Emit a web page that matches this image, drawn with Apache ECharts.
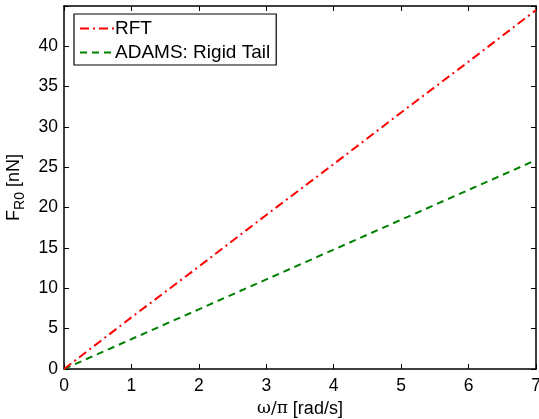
<!DOCTYPE html>
<html>
<head>
<meta charset="utf-8">
<script src="https://cdn.jsdelivr.net/npm/echarts@6/dist/echarts.min.js"></script>
<style>
html,body{margin:0;padding:0;background:#fff;}
#chart{width:539px;height:419px;}
</style>
</head>
<body>
<div id="chart"></div>
<script>
// omega/pi values and forces
var xVals = [0, 1, 2, 3, 4, 5, 6, 7];
var rftVals = [0, 6.4, 12.7, 19.1, 25.4, 31.8, 38.1, 44.5];
var adamsVals = [0, 3.7, 7.4, 11.1, 14.8, 18.5, 22.2, 25.9];
var seriesNames = ['RFT', 'ADAMS: Rigid Tail'];

function pairs(xs, ys){
	var out = [];
	for(var i = 0; i < xs.length; i++){
		out.push([xs[i], ys[i]]);
	}
	return out;
}

var font = 'Liberation Sans, Arial, sans-serif';
var myChart = echarts.init(document.getElementById('chart'), null, {renderer: 'canvas'});

var axisCommon = {
	axisLine: {show: true, onZero: false, lineStyle: {color: '#000', width: 1.5}},
	axisTick: {show: true, inside: true, length: 5, lineStyle: {color: '#000', width: 1}},
	splitLine: {show: false}
};

option = {
	animation: false,
	grid: {left: 64, right: 3, top: 6, bottom: 50, containLabel: false, outerBoundsMode: 'none'},
	legend: {
		left: 74, top: 14,
		orient: 'vertical',
		padding: [5, 6, 3, 5],
		itemGap: 5,
		itemWidth: 34,
		itemHeight: 19,
		borderColor: '#000',
		borderWidth: 1.2,
		backgroundColor: '#fff',
		itemStyle: {opacity: 0},
		textStyle: {fontFamily: font, fontSize: 19, color: '#000', padding: [0, 0, 0, -4]},
		data: seriesNames
	},
	xAxis: [
		Object.assign({
			type: 'value', min: 0, max: 7, interval: 1, position: 'bottom',
			name: '{w|ω/π} [rad/s]', nameLocation: 'middle', nameGap: 28,
			nameTextStyle: {fontFamily: font, fontSize: 18, color: '#000',
				rich: {w: {fontFamily: 'DejaVu Serif, serif', fontSize: 17, color: '#000'}}},
			axisLabel: {fontFamily: font, fontSize: 17.5, color: '#000', margin: 8}
		}, axisCommon),
		Object.assign({
			type: 'value', min: 0, max: 7, interval: 1, position: 'top',
			axisLabel: {show: false}
		}, axisCommon)
	],
	yAxis: [
		Object.assign({
			type: 'value', min: 0, max: 45, interval: 5, position: 'left',
			name: 'F{sub|R0} [nN]', nameLocation: 'middle', nameGap: 37, nameRotate: 90,
			nameTextStyle: {fontFamily: font, fontSize: 18, color: '#000',
				rich: {sub: {fontFamily: font, fontSize: 14, color: '#000', padding: [12, 0, 0, 0]}}},
			axisLabel: {fontFamily: font, fontSize: 17.5, color: '#000', margin: 6,
				formatter: function(v){ return v <= 40 ? String(v) : ''; }}
		}, axisCommon),
		Object.assign({
			type: 'value', min: 0, max: 45, interval: 5, position: 'right',
			axisLabel: {show: false}
		}, axisCommon)
	],
	series: [{
		name: seriesNames[0],
		type: 'line',
		data: pairs(xVals, rftVals),
		showSymbol: false,
		symbol: 'none',
		lineStyle: {color: '#ff0000', width: 2, type: [9, 4, 2, 4]},
		itemStyle: {color: '#ff0000'},
		z: 3
	}, {
		name: seriesNames[1],
		type: 'line',
		data: pairs(xVals, adamsVals),
		showSymbol: false,
		symbol: 'none',
		lineStyle: {color: '#008000', width: 2, type: [7, 5]},
		itemStyle: {color: '#008000'},
		z: 2
	}]
};
myChart.setOption(option);
</script>
</body>
</html>
